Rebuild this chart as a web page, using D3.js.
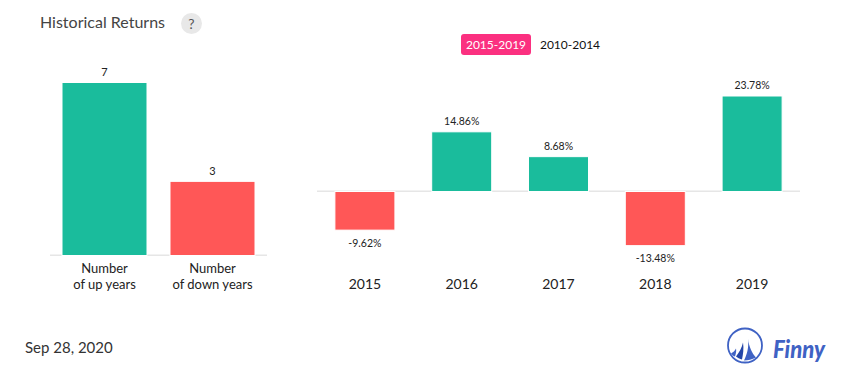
<!DOCTYPE html>
<html><head><meta charset="utf-8">
<script src="https://cdnjs.cloudflare.com/ajax/libs/d3/7.8.5/d3.min.js"></script>
<style>html,body{margin:0;padding:0;background:#fff}svg{display:block;font-family:Lato,sans-serif}</style>
</head><body><svg id="c" width="855" height="382"></svg>
<script>
const countCategories = ["up","down"];
const countValues = [7,3];
const countLabels = [["Number","of up years"],["Number","of down years"]];
const years = ["2015","2016","2017","2018","2019"];
const returns = [-9.62,14.86,8.68,-13.48,23.78];
const rangeButtons = ["2015-2019","2010-2014"];
const UP="#1abc9c", DOWN="#ff5757", INK="#222";
const svg=d3.select("#c");

// header
svg.append("text").attr("x",40).attr("y",28).attr("font-size",16).attr("fill","#444").text("Historical Returns");
svg.append("circle").attr("cx",191.5).attr("cy",23.5).attr("r",10.5).attr("fill","#e8e8e8");
svg.append("text").attr("x",191.5).attr("y",28.5).attr("text-anchor","middle").attr("font-size",14).attr("fill","#555").text("?");

// range buttons
svg.append("rect").attr("x",461).attr("y",34).attr("width",70).attr("height",21).attr("rx",3).attr("fill","#fb3080");
svg.append("text").attr("x",496).attr("y",49).attr("text-anchor","middle").attr("font-size",12).attr("fill","#fff").text(rangeButtons[0]);
svg.append("text").attr("x",570).attr("y",49).attr("text-anchor","middle").attr("font-size",12).attr("fill","#111").text(rangeButtons[1]);

// left chart
const lx=d3.scaleBand().domain(countCategories).range([50.5,266.5]).paddingInner(.213).paddingOuter(.1065);
const ly=d3.scaleLinear().domain([0,7]).range([255.5,82.5]);
svg.append("line").attr("x1",50).attr("x2",267).attr("y1",255.3).attr("y2",255.3).attr("stroke","#e6e6e6").attr("stroke-width",1.5);
svg.selectAll(".lb").data(countValues).join("rect").attr("class","lb")
  .attr("x",(d,i)=>lx(countCategories[i])).attr("width",lx.bandwidth())
  .attr("y",d=>ly(d)).attr("height",d=>ly(0)-ly(d)).attr("fill",(d,i)=>i?DOWN:UP)
  .attr("stroke","#fff").attr("stroke-width",1);
svg.selectAll(".lv").data(countValues).join("text").attr("class","lv")
  .attr("x",(d,i)=>lx(countCategories[i])+lx.bandwidth()/2).attr("y",d=>ly(d)-6.5)
  .attr("text-anchor","middle").attr("font-size",11).attr("fill",INK).text(d=>d);
countLabels.forEach((ls,i)=>ls.forEach((t,j)=>svg.append("text")
  .attr("x",lx(countCategories[i])+lx.bandwidth()/2).attr("y",273+j*16)
  .attr("text-anchor","middle").attr("font-size",13).attr("fill",INK).text(t)));

// right chart
const rx=d3.scaleBand().domain(years).range([316.5,800.5]).paddingInner(.38).paddingOuter(.19);
const ry=d3.scaleLinear().domain([0,23.78]).range([191.5,96]);
svg.append("line").attr("x1",317).attr("x2",800).attr("y1",191.2).attr("y2",191.2).attr("stroke","#e6e6e6").attr("stroke-width",1.5);
svg.selectAll(".rb").data(returns).join("rect").attr("class","rb")
  .attr("x",(d,i)=>rx(years[i])).attr("width",rx.bandwidth())
  .attr("y",d=>d>=0?ry(d):ry(0)).attr("height",d=>Math.abs(ry(d)-ry(0))).attr("fill",d=>d>=0?UP:DOWN)
  .attr("stroke","#fff").attr("stroke-width",1);
svg.selectAll(".rv").data(returns).join("text").attr("class","rv")
  .attr("x",(d,i)=>rx(years[i])+rx.bandwidth()/2).attr("y",d=>d>=0?ry(d)-7:ry(d)+16.5)
  .attr("text-anchor","middle").attr("font-size",10.5).attr("fill",INK).text(d=>d.toFixed(2)+"%");
svg.selectAll(".ry").data(years).join("text").attr("class","ry")
  .attr("x",d=>rx(d)+rx.bandwidth()/2).attr("y",289)
  .attr("text-anchor","middle").attr("font-size",14).attr("fill",INK).text(d=>d);

// footer
svg.append("text").attr("x",25).attr("y",353).attr("font-size",15).attr("fill","#333").text("Sep 28, 2020");
const logo=svg.append("g").attr("transform","translate(745,345.5)");
logo.append("circle").attr("r",17).attr("fill","none").attr("stroke","#3f62c4").attr("stroke-width",1.8);
logo.append("path").attr("d","M3,-6.5 C4,1 7,8 11,12 C7,14 3,15 -1,15 C2,9 4,2 3,-6.5Z").attr("fill","#3f62c4");
logo.append("path").attr("d","M-2,-3 C-1,3 -2,9 -3,14 C-5,13.5 -8,12 -9,11 C-6,7 -3,2 -2,-3Z").attr("fill","#2446a8");
logo.append("path").attr("d","M-9,3 C-10,5 -12,7 -14,8 C-13,9 -12,10.5 -10,11 C-9,8 -8.5,5 -9,3Z").attr("fill","#3f62c4");
svg.append("text").attr("x",773).attr("y",358).attr("font-style","italic").attr("font-weight",900).attr("font-size",24).attr("fill","#3f62c4").attr("textLength",52).attr("lengthAdjust","spacingAndGlyphs").text("Finny");
</script></body></html>
